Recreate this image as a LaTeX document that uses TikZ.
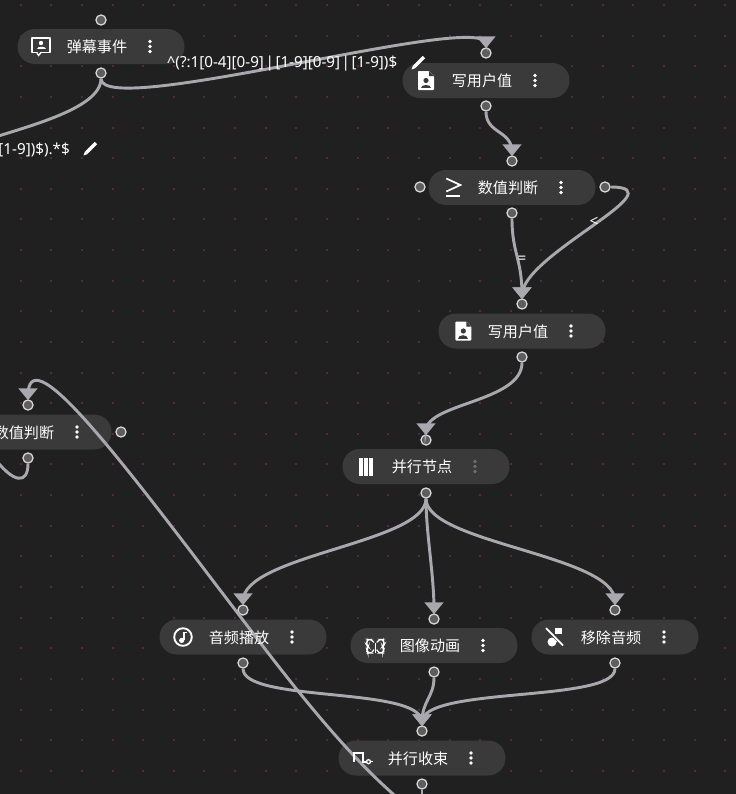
\documentclass[tikz,border=0pt]{standalone}
\usepackage{fontspec}
\newfontfamily\cjkfont{Noto Sans CJK SC}
\newfontfamily\latinfont{Noto Sans}
\usetikzlibrary{arrows.meta}
\definecolor{canvasbg}{HTML}{202020}
\definecolor{griddot}{HTML}{5E2243}
\definecolor{pillbg}{HTML}{3A3A3A}
\definecolor{wirecol}{HTML}{A8A8AE}
\definecolor{portfill}{HTML}{5E5E5E}
\definecolor{portline}{HTML}{DDDDDD}
\definecolor{dimdots}{HTML}{6E6E6E}
\newcommand{\gappipe}{\kern1.2pt|\kern1.2pt}
\tikzset{
  pill/.style={draw=none,fill=pillbg,rounded corners=13pt,minimum width=125.25pt,minimum height=26.25pt,inner sep=0pt},
  port/.style={circle,draw=portline,fill=portfill,line width=.9pt,minimum size=7.6pt,inner sep=0pt},
  wire/.style={draw=wirecol,line width=2.2pt},
  arrowwire/.style={wire,-{Triangle[width=14pt,length=9pt]},shorten >=-.7pt},
  pilltext/.style={text=white,font=\cjkfont\fontsize{11.3pt}{13pt}\selectfont,inner sep=0pt},
  ruletext/.style={text=white,font=\latinfont\fontsize{11.4pt}{13pt}\selectfont,inner sep=0pt},
  kebab/.pic={\foreach \d in {-5,0,5}{\fill[white] (0,\d) circle (1.9);}},
  kebabdim/.pic={\foreach \d in {-5,0,5}{\fill[dimdots] (0,\d) circle (1.9);}},
  pencil/.pic={\draw[white,line width=2.4pt] (-3.5,3.5) -- (6,-6);
    \fill[white] (-4.9,2.1) -- (-2.1,4.9) -- (-6.5,6.5) -- cycle;},
  iconchat/.pic={\draw[white,line width=1.2pt,line join=round] (-9,-8.5) rectangle (9,6);
    \fill[white] (-5,6) -- (-2.5,10) -- (1,6) -- cycle;
    \fill[pillbg] (-3.6,5.2) -- (-2.5,7.6) -- (-.6,5.2) -- cycle;
    \fill[white] (0,-3.5) circle (2.2);
    \fill[white] (-4.5,2.5) .. controls (-4.5,-1) and (4.5,-1) .. (4.5,2.5) -- cycle;},
  icondoc/.pic={\fill[white,rounded corners=.7pt] (-8,-9.5) -- (3,-9.5) -- (8,-4.5) -- (8,9.5) -- (-8,9.5) -- cycle;
    \fill[pillbg] (3,-9.5) -- (8,-4.5) -- (3,-4.5) -- cycle;
    \fill[pillbg] (0,0) circle (2.6);
    \fill[pillbg] (-5,7.5) .. controls (-5,3) and (5,3) .. (5,7.5) -- cycle;},
  icongeq/.pic={\draw[white,line width=1.3pt,line join=miter] (-7,-9) -- (7,-2.5) -- (-7,4);
    \draw[white,line width=1.3pt] (-7,8.5) -- (7,8.5);},
  iconcols/.pic={\foreach \d in {-5.4,0,5.4}{\fill[white] (\d-2,-9) rectangle (\d+2,9);}},
  iconnote/.pic={\draw[white,line width=1.4pt] (0,0) circle (8.8);
    \fill[white] (-1.3,3.4) circle (2.6);
    \draw[white,line width=1.1pt] (.9,3.4) -- (.9,-4.5) -- (3.8,-4.5);},
  iconwings/.pic={\draw[white,line width=.9pt,rounded corners=2pt] (-1.5,-3) -- (-3.5,-6) -- (-8,-6) -- (-9,-1) -- (-7,1) -- (-8.5,4) -- (-7.5,7.5) -- (-3,7.5) -- (-1.5,4);
    \draw[white,line width=.9pt,rounded corners=2pt] (1.5,-3) -- (3.5,-6) -- (8,-6) -- (9,-1) -- (7,1) -- (8.5,4) -- (7.5,7.5) -- (3,7.5) -- (1.5,4);
    \draw[white,line width=.9pt] (0,-3) -- (0,7.5);},
  iconmute/.pic={\fill[white] (-3,5) circle (4.5);
    \fill[white] (-.5,-1) rectangle (2,5);
    \fill[white] (-.5,-9) rectangle (7,-3.5);
    \draw[pillbg,line width=2.6pt] (-9,-9) -- (9,9);
    \draw[white,line width=1.3pt] (-9,-9) -- (8,8.5);},
  iconjoin/.pic={\draw[white,line width=1.2pt] (-8,4) -- (-8,-5) -- (1,-5) -- (1,3.7) -- (4.5,3.7);
    \draw[white,line width=1pt] (6.5,3.7) circle (2);
    \draw[white,line width=1pt] (8.5,3.7) -- (10.7,3.7);}
}
\begin{document}
\begin{tikzpicture}[x=.75pt,y=-.75pt]
  \useasboundingbox (0,0) rectangle (736,794);
  \fill[canvasbg] (0,0) rectangle (736,794);
  % dotted canvas
  \foreach \i in {0,...,23}{
    \foreach \j in {0,...,25}{
      \fill[griddot] ({20.7+\i*30.63-1},{5+\j*30.63-1}) rectangle +(2,2);
    }
  }
  % node bodies
  \node[pill] (danmu) at (101,46.5) {};
  \node[pill] (writeA) at (486,80.5) {};
  \node[pill] (compareA) at (512,187.5) {};
  \node[pill] (writeB) at (522,331) {};
  \node[pill] (compareB) at (28,432) {};
  \node[pill] (fork) at (426,466.5) {};
  \node[pill] (audio) at (243,637) {};
  \node[pill] (anim) at (434,645.5) {};
  \node[pill] (mute) at (615,637) {};
  \node[pill] (join) at (422,758) {};
  % ports
  \node[port] (danmuIn) at (101,20) {};
  \node[port] (danmuOut) at (101,73) {};
  \node[port] (writeAIn) at (486,53) {};
  \node[port] (writeAOut) at (486,106) {};
  \node[port] (compareAIn) at (512,161) {};
  \node[port] (compareAOut) at (512,213) {};
  \node[port] (compareALeft) at (420,187) {};
  \node[port] (compareARight) at (605,187) {};
  \node[port] (writeBIn) at (522,304) {};
  \node[port] (writeBOut) at (522,357) {};
  \node[port] (compareBIn) at (28,405) {};
  \node[port] (compareBOut) at (28,458) {};
  \node[port] (compareBRight) at (121,432) {};
  \node[port] (forkIn) at (426,440) {};
  \node[port] (forkOut) at (426,493) {};
  \node[port] (audioIn) at (243,610) {};
  \node[port] (audioOut) at (243,663) {};
  \node[port] (animIn) at (434,619) {};
  \node[port] (animOut) at (434,672) {};
  \node[port] (muteIn) at (615,610) {};
  \node[port] (muteOut) at (615,663) {};
  \node[port] (joinIn) at (422,731) {};
  \node[port] (joinOut) at (422,784) {};
  % free ends of the wires that leave the canvas
  \coordinate (leaveLeft) at (-20,142);
  \coordinate (loopOut) at (-8,455);
  \coordinate (farBottom) at (400,800);
  \coordinate (bendMid) at (220,590);
  % wires
  \draw[arrowwire] (danmuOut) .. controls +(0,47) and +(0,-34) .. ([yshift=2.5pt]writeAIn.north) -- (writeAIn);
  \draw[wire] (danmuOut) .. controls +(0,37) and +(40,-14) .. (leaveLeft);
  \draw[arrowwire] (writeAOut) .. controls +(0,28) and +(0,-22) .. ([yshift=2.5pt]compareAIn.north) -- (compareAIn);
  \draw[arrowwire] (compareAOut) .. controls +(0,40) and +(0,-36) .. ([yshift=2.5pt]writeBIn.north) -- (writeBIn);
  \draw[arrowwire] (compareARight) .. controls +(75,0) and +(0,-40) .. ([yshift=2.5pt]writeBIn.north) -- (writeBIn);
  \draw[arrowwire] (writeBOut) .. controls +(0,45) and +(0,-28) .. ([yshift=2.5pt]forkIn.north) -- (forkIn);
  \draw[arrowwire] (forkOut) .. controls +(0,50) and +(0,-46) .. ([yshift=2.5pt]audioIn.north) -- (audioIn);
  \draw[arrowwire] (forkOut) .. controls +(0,40) and +(0,-36) .. ([yshift=2.5pt]animIn.north) -- (animIn);
  \draw[arrowwire] (forkOut) .. controls +(0,50) and +(0,-46) .. ([yshift=2.5pt]muteIn.north) -- (muteIn);
  \draw[arrowwire] (audioOut) .. controls +(0,40) and +(0,-36) .. ([yshift=2.5pt]joinIn.north) -- (joinIn);
  \draw[arrowwire] (animOut) .. controls +(0,25) and +(0,-21) .. ([yshift=2.5pt]joinIn.north) -- (joinIn);
  \draw[arrowwire] (muteOut) .. controls +(0,40) and +(0,-36) .. ([yshift=2.5pt]joinIn.north) -- (joinIn);
  \draw[wire] (compareBOut) .. controls +(0,26) and +(22,30) .. (loopOut);
  \draw[arrowwire] (farBottom) .. controls (335,745) and (270,655) .. (bendMid)
    .. controls (110,445) and (28,339) .. ([yshift=2.5pt]compareBIn.north) -- (compareBIn);
  \draw[wire] (joinOut) -- +(0,12);
  % texts, icons and menus
  \foreach \nm/\txt in {danmu/弹幕事件,writeA/写用户值,compareA/数值判断,writeB/写用户值,compareB/数值判断,fork/并行节点,audio/音频播放,anim/图像动画,mute/移除音频,join/并行收束}{
    \node[pilltext] (\nm Text) at ([xshift=-3pt,yshift=-.5pt]\nm) {\txt};
  }
  \foreach \nm in {danmu,writeA,compareA,writeB,compareB,audio,anim,mute,join}{
    \pic at ([xshift=36.75pt]\nm) {kebab};
  }
  \pic at ([xshift=36.75pt]fork) {kebabdim};
  \pic at ([xshift=-45pt]danmu) {iconchat};
  \pic at ([xshift=-45pt]writeA) {icondoc};
  \pic at ([xshift=-44pt]compareA) {icongeq};
  \pic at ([xshift=-44pt]writeB) {icondoc};
  \pic at ([xshift=-45pt]fork) {iconcols};
  \pic at ([xshift=-45pt]audio) {iconnote};
  \pic at ([xshift=-44pt]anim) {iconwings};
  \pic at ([xshift=-45pt]mute) {iconmute};
  \pic at ([xshift=-45pt]join) {iconjoin};
  % wire labels
  \node[ruletext] (ruleHigh) at (282,64) {\^{}(?:1[0-4][0-9]\gappipe[1-9][0-9]\gappipe[1-9])\$};
  \node[ruletext,anchor=east] (ruleLow) at (70,149.5) {[1-9])\$).*\$};
  \node[ruletext] (equalMark) at (522,260) {=};
  \node[ruletext] (lessMark) at (594,222) {<};
  \pic at (418,63) {pencil};
  \pic at (90,149) {pencil};
\end{tikzpicture}
\end{document}
